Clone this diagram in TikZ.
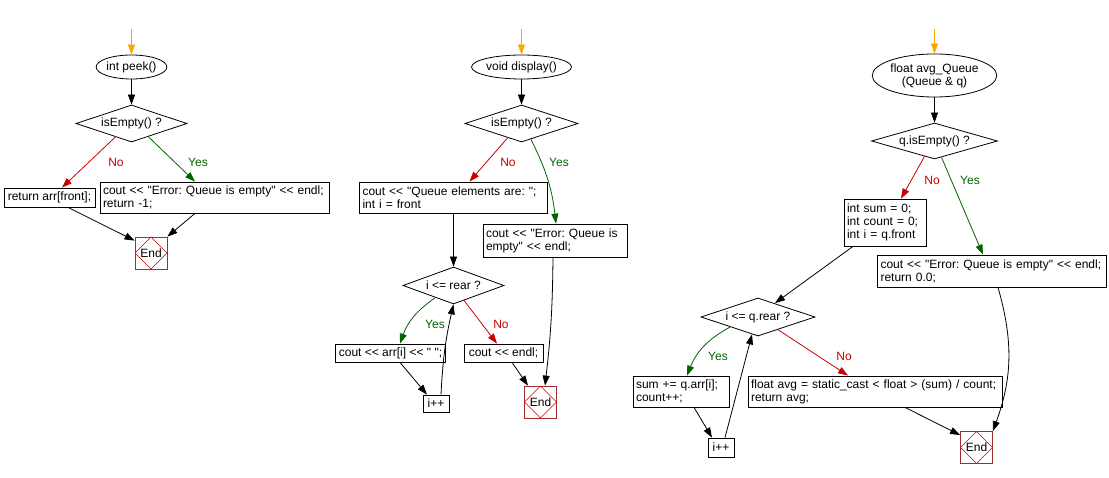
\documentclass[tikz,border=0pt]{standalone}
\usepackage{fontspec}
\setmainfont{Liberation Sans}[Ligatures=TeXOff]
\usetikzlibrary{shapes.geometric,arrows.meta}
\frenchspacing

\definecolor{noRed}{RGB}{204,0,0}
\definecolor{yesGreen}{RGB}{0,100,0}
\definecolor{endBrown}{RGB}{165,42,42}
\definecolor{startOrange}{RGB}{255,165,0}

\begin{document}
\begin{tikzpicture}[x=1pt,y=-1pt,
    font=\fontsize{12}{13}\selectfont,
    line width=0.8pt,
    >={Triangle[length=10pt,width=7pt]},
    startarrow/.style={startOrange,->},
    flow/.style={->},
    noarrow/.style={noRed,->},
    yesarrow/.style={yesGreen,->},
    func/.style={draw,ellipse,inner sep=0pt,align=center},
    decision/.style={draw,diamond,aspect=3,inner sep=0pt},
    stmt/.style={draw,rectangle,align=left,inner xsep=3pt,inner ysep=0pt},
    endnode/.style={draw=endBrown,minimum size=32pt,inner sep=0pt,
      path picture={\draw[noRed,line width=0.6pt] (path picture bounding box.north)
        -- (path picture bounding box.east) -- (path picture bounding box.south)
        -- (path picture bounding box.west) -- cycle;}},
    nolabel/.style={text=noRed},
    yeslabel/.style={text=yesGreen}]

    % Fix the page to the size of the picture
    \useasboundingbox (0,0) rectangle (1109,478);
    \fill[white] (0,0) rectangle (1109,478);

    % ---- int peek() ----
    \coordinate (s1) at (131.5,29);
    \node[func, minimum width=65pt, minimum height=24pt] (peek) at (131.5,67) {int peek()};
    \node[decision, minimum width=111pt, minimum height=37pt] (empty1) at (131.5,123.5) {isEmpty() ?};
    \node[stmt, minimum width=91pt, minimum height=19pt] (ret1) at (49.5,197.5) {return arr[front];};
    \node[stmt, text width=223pt, minimum height=31pt] (err1) at (214.5,197.5) {cout << "Error: Queue is empty" << endl;\\return -1;};
    \node[endnode] (end1) at (151,253) {End};

    % Branch labels
    \node[nolabel] (no1) at (116,162) {No};
    \node[yeslabel] (yes1) at (198,162) {Yes};

    % Connectors
    \draw[startarrow] (s1) -- (peek.north);
    \draw[flow] (peek) -- (empty1);
    \draw[noarrow] ([xshift=-15.5pt,yshift=6pt]empty1.south) -- ([xshift=12.5pt]ret1.north);
    \draw[yesarrow] ([xshift=16.5pt,yshift=6pt]empty1.south) -- ([xshift=-19.5pt]err1.north);
    \draw[flow] ([xshift=18.5pt]ret1.south) -- ([yshift=-4pt]end1.north west);
    \draw[flow] ([xshift=-19.5pt]err1.south) -- (end1.north east);

    % ---- void display() ----
    \coordinate (s2) at (521.5,29);
    \node[func, minimum width=89pt, minimum height=24pt] (display) at (521.5,67) {void display()};
    \node[decision, minimum width=113pt, minimum height=37pt] (empty2) at (521.5,123.5) {isEmpty() ?};
    \node[stmt, text width=182pt, minimum height=31pt] (elems) at (453.5,197.5) {cout << "Queue elements are: ";\\int i = front};
    \node[stmt, text width=138pt, minimum height=33pt] (err2) at (555,240.5) {cout << "Error: Queue is\\empty" << endl;};
    \node[decision, minimum width=101pt, minimum height=37pt] (loop2) at (453.5,285.5) {i <= rear ?};
    \node[stmt, minimum width=109pt, minimum height=18pt] (print2) at (390.5,353) {cout << arr[i] << " ";};
    \node[stmt, minimum width=79pt, minimum height=18pt] (endl2) at (503.5,353) {cout << endl;};
    \node[stmt, minimum width=26pt, minimum height=17pt] (inc2) at (436,403.5) {i++};
    \node[endnode] (end2) at (540.5,402) {End};

    % Branch labels
    \node[nolabel] (no2) at (508,162) {No};
    \node[yeslabel] (yes2) at (559,162) {Yes};
    \node[yeslabel] (yes2b) at (435,324) {Yes};
    \node[nolabel] (no2b) at (501,324) {No};

    % Connectors
    \draw[startarrow] (s2) -- (display.north);
    \draw[flow] (display) -- (empty2);
    \draw[noarrow] ([xshift=-13.5pt,yshift=5pt]empty2.south) -- ([xshift=16pt]elems.north);
    \draw[yesarrow] ([xshift=9.5pt,yshift=3pt]empty2.south) to[bend left=10] ([xshift=1pt]err2.north);
    \draw[flow] (elems.south) -- (loop2.north);
    \draw[yesarrow] ([xshift=-18.5pt,yshift=6.5pt]loop2.south) to[bend right=18] ([xshift=9.5pt]print2.north);
    \draw[noarrow] ([xshift=10.5pt,yshift=4pt]loop2.south) -- ([xshift=-6.5pt]endl2.north);
    \draw[flow] ([xshift=9.5pt]print2.south) -- ([xshift=-9pt]inc2.north);
    \draw[flow] ([xshift=5pt]inc2.north) to[bend left=5] (loop2.south);
    \draw[flow] ([xshift=8.5pt]endl2.south) -- ([xshift=-12.5pt]end2.north);
    \draw[flow] ([xshift=-2pt]err2.south) to[bend left=3] ([xshift=4.5pt]end2.north);

    % ---- float avg_Queue(Queue & q) ----
    \coordinate (s3) at (934.5,29);
    \node[func, minimum width=111pt, minimum height=43pt] (avg) at (934.5,75.5) {float avg\_Queue\\(Queue \& q)};
    \node[decision, minimum width=126pt, minimum height=36pt] (empty3) at (934.5,141) {q.isEmpty() ?};
    \node[stmt, text width=76pt, minimum height=47pt] (init3) at (885,222.5) {int sum = 0;\\int count = 0;\\int i = q.front};
    \node[stmt, text width=223pt, minimum height=32pt] (err3) at (992,271) {cout << "Error: Queue is empty" << endl;\\return 0.0;};
    \node[decision, minimum width=114pt, minimum height=38pt] (loop3) at (758,317) {i <= q.rear ?};
    \node[stmt, text width=90pt, minimum height=31pt] (sum3) at (681,391.5) {sum += q.arr[i];\\count++;};
    \node[stmt, text width=248pt, minimum height=31pt] (calc3) at (875,391.5) {float avg = static\_cast < float > (sum) / count;\\return avg;};
    \node[stmt, minimum width=26pt, minimum height=19pt] (inc3) at (721,447.5) {i++};
    \node[endnode] (end3) at (976.5,447.5) {End};

    % Branch labels
    \node[nolabel] (no3) at (932,180) {No};
    \node[yeslabel] (yes3) at (970,180) {Yes};
    \node[yeslabel] (yes3b) at (718,356) {Yes};
    \node[nolabel] (no3b) at (844,356) {No};

    % Connectors
    \draw[startarrow] (s3) -- (avg.north);
    \draw[flow] (avg) -- (empty3);
    \draw[noarrow] ([xshift=-10pt,yshift=3pt]empty3.south) -- ([xshift=16pt]init3.north);
    \draw[yesarrow] ([xshift=7pt,yshift=2pt]empty3.south) -- ([xshift=-9pt]err3.north);
    \draw[flow] ([xshift=-32pt]init3.south) -- ([xshift=17pt,yshift=-5.5pt]loop3.north);
    \draw[yesarrow] ([xshift=-28pt,yshift=9.3pt]loop3.south) to[bend right=20] ([xshift=6pt]sum3.north);
    \draw[noarrow] ([xshift=20pt,yshift=6.7pt]loop3.south) -- ([xshift=-27pt]calc3.north);
    \draw[flow] ([xshift=13pt]sum3.south) -- ([xshift=-9pt]inc3.north);
    \draw[flow] ([xshift=4pt]inc3.north) -- ([xshift=-6pt,yshift=2pt]loop3.south);
    \draw[flow] ([xshift=30pt]calc3.south) -- ([yshift=-4pt]end3.north west);
    \draw[flow] ([xshift=6pt]err3.south) to[bend left=18] (end3.north east);

\end{tikzpicture}
\end{document}
